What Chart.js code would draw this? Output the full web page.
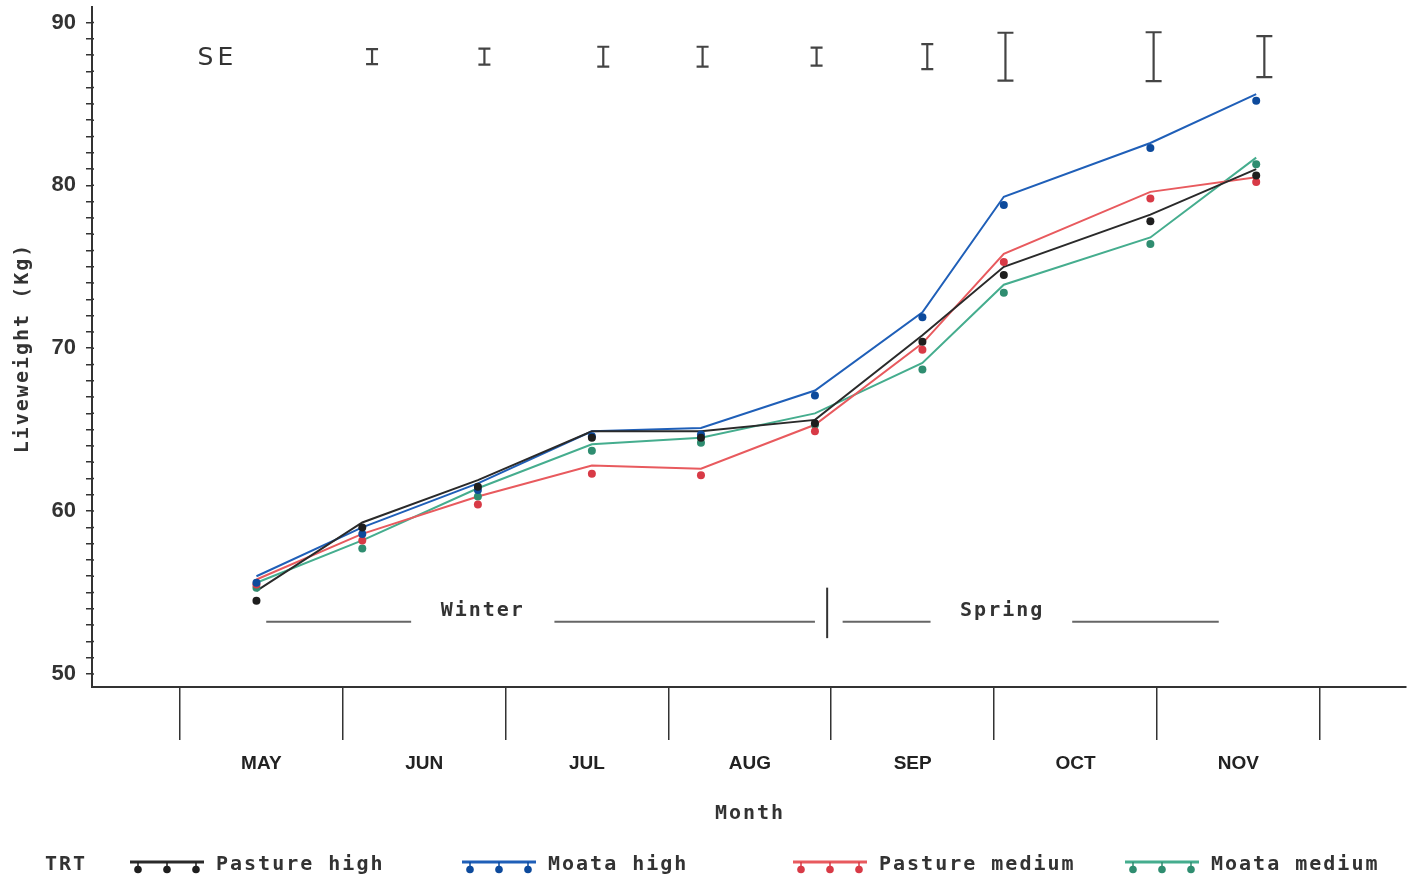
<!DOCTYPE html>
<html>
<head>
<meta charset="utf-8">
<script src="https://cdn.jsdelivr.net/npm/chart.js@4.4.1/dist/chart.umd.min.js"></script>
<style>
  html, body { margin: 0; padding: 0; background: #ffffff; }
  canvas { display: block; }
</style>
</head>
<body>
<canvas id="c" width="1410" height="881"></canvas>
<script>
// ---- Data ----
// sampling times, in month units (5 = start of May ... 12 = end of November)
const sampleTimes = [5.47, 6.12, 6.83, 7.53, 8.20, 8.90, 9.56, 10.06, 10.96, 11.61];
const monthLabels = ['MAY', 'JUN', 'JUL', 'AUG', 'SEP', 'OCT', 'NOV'];
const monthStarts = [5, 6, 7, 8, 9, 10, 11, 12];
const seriesNames = ['Pasture high', 'Moata high', 'Pasture medium', 'Moata medium'];

// observed means (dots)
const pastureHighObs   = [54.5, 59.0, 61.5, 64.5, 64.5, 65.4, 70.4, 74.5, 77.8, 80.6];
const moataHighObs     = [55.6, 58.6, 61.3, 64.6, 64.7, 67.1, 71.9, 78.8, 82.3, 85.2];
const pastureMediumObs = [55.5, 58.2, 60.4, 62.3, 62.2, 64.9, 69.9, 75.3, 79.2, 80.2];
const moataMediumObs   = [55.3, 57.7, 60.9, 63.7, 64.2, 65.3, 68.7, 73.4, 76.4, 81.3];

// fitted lines
const pastureHighFit   = [55.1, 59.3, 61.9, 64.9, 64.9, 65.6, 70.8, 75.0, 78.2, 81.0];
const moataHighFit     = [56.0, 59.0, 61.7, 64.9, 65.1, 67.4, 72.2, 79.3, 82.6, 85.6];
const pastureMediumFit = [55.8, 58.6, 60.9, 62.8, 62.6, 65.3, 70.3, 75.8, 79.6, 80.5];
const moataMediumFit   = [55.6, 58.2, 61.4, 64.1, 64.5, 66.0, 69.1, 73.9, 76.8, 81.7];

// standard errors shown as bars at the top
const seTimes  = [6.18, 6.87, 7.60, 8.21, 8.91, 9.59, 10.07, 10.98, 11.66];
const seValues = [0.46, 0.49, 0.61, 0.61, 0.55, 0.77, 1.47, 1.50, 1.26];

const yTicks = [50, 60, 70, 80, 90];

// ---- Styles ----
const lineColors = ['#2a2a2a', '#1f5fb8', '#e85a5e', '#45ad8e'];
const dotColors  = ['#1e1e1e', '#0d4a9c', '#d83a46', '#2f8d70'];
const obsSets = [pastureHighObs, moataHighObs, pastureMediumObs, moataMediumObs];
const fitSets = [pastureHighFit, moataHighFit, pastureMediumFit, moataMediumFit];

const datasets = [];
fitSets.forEach((arr, i) => {
  datasets.push({
    type: 'line', label: seriesNames[i] + ' fit',
    data: sampleTimes.map((t, k) => ({x: t, y: arr[k]})),
    borderColor: lineColors[i], borderWidth: 2, pointRadius: 0, tension: 0, fill: false,
    order: 2
  });
});
obsSets.forEach((arr, i) => {
  datasets.push({
    type: 'scatter', label: seriesNames[i],
    data: sampleTimes.map((t, k) => ({x: t, y: arr[k]})),
    backgroundColor: dotColors[i], borderColor: dotColors[i], pointRadius: 4, borderWidth: 0,
    order: 1
  });
});

const MONO = '"DejaVu Sans Mono", "Liberation Mono", monospace';

const decor = {
  id: 'decor',
  afterDraw(chart) {
    const ctx = chart.ctx;
    const xs = chart.scales.x, ys = chart.scales.y;
    const ca = chart.chartArea;
    ctx.save();

    // SE bars
    ctx.fillStyle = '#333';
    ctx.font = '25px "DejaVu Sans", sans-serif';
    ctx.letterSpacing = '4px';
    ctx.textAlign = 'center'; ctx.textBaseline = 'middle';
    ctx.fillText('SE', xs.getPixelForValue(5.23), 58);
    ctx.letterSpacing = '0px';
    ctx.strokeStyle = '#444'; ctx.lineWidth = 2.2;
    const seCenter = 87.9;
    seTimes.forEach((t, i) => {
      const x = xs.getPixelForValue(t);
      const y1 = ys.getPixelForValue(seCenter + seValues[i]);
      const y2 = ys.getPixelForValue(seCenter - seValues[i]);
      const cap = seValues[i] > 1 ? 8 : 6;
      ctx.beginPath();
      ctx.moveTo(x, y1); ctx.lineTo(x, y2);
      ctx.moveTo(x - cap, y1); ctx.lineTo(x + cap, y1);
      ctx.moveTo(x - cap, y2); ctx.lineTo(x + cap, y2);
      ctx.stroke();
    });

    // Season annotation
    const sy = ys.getPixelForValue(53.2);
    ctx.strokeStyle = '#666'; ctx.lineWidth = 2;
    [[5.53, 6.42], [7.30, 8.90], [9.07, 9.61], [10.48, 11.38]].forEach(s => {
      ctx.beginPath();
      ctx.moveTo(xs.getPixelForValue(s[0]), sy);
      ctx.lineTo(xs.getPixelForValue(s[1]), sy);
      ctx.stroke();
    });
    ctx.strokeStyle = '#333';
    ctx.beginPath();
    const dx = xs.getPixelForValue(8.975);
    ctx.moveTo(dx, ys.getPixelForValue(55.3));
    ctx.lineTo(dx, ys.getPixelForValue(52.2));
    ctx.stroke();
    ctx.font = 'bold 20px ' + MONO;
    ctx.letterSpacing = '2px';
    ctx.fillStyle = '#333';
    ctx.fillText('Winter', xs.getPixelForValue(6.86), ys.getPixelForValue(53.9));
    ctx.fillText('Spring', xs.getPixelForValue(10.05), ys.getPixelForValue(53.9));

    // Month labels
    ctx.letterSpacing = '0px';
    ctx.font = 'bold 19px "Liberation Sans", Arial, sans-serif';
    ctx.fillStyle = '#222';
    monthLabels.forEach((m, i) => {
      ctx.fillText(m, xs.getPixelForValue(monthStarts[i] + 0.5), 764);
    });

    // Axis titles
    ctx.font = 'bold 20px ' + MONO;
    ctx.letterSpacing = '2px';
    ctx.fillStyle = '#333';
    ctx.fillText('Month', 750, 814);
    ctx.save();
    ctx.translate(23, 348);
    ctx.rotate(-Math.PI / 2);
    ctx.fillText('Liveweight (Kg)', 0, 0);
    ctx.restore();

    // Legend
    ctx.textAlign = 'left';
    ctx.fillText('TRT', 45, 865);
    const legendX = [130, 462, 793, 1125];
    seriesNames.forEach((n, i) => {
      const x0 = legendX[i];
      ctx.strokeStyle = lineColors[i]; ctx.lineWidth = 3;
      ctx.beginPath(); ctx.moveTo(x0, 862); ctx.lineTo(x0 + 74, 862); ctx.stroke();
      ctx.fillStyle = dotColors[i];
      ctx.lineWidth = 1.5; ctx.strokeStyle = dotColors[i];
      [8, 37, 66].forEach(off => {
        ctx.beginPath(); ctx.moveTo(x0 + off, 862); ctx.lineTo(x0 + off, 868); ctx.stroke();
        ctx.beginPath(); ctx.arc(x0 + off, 869.5, 3.8, 0, Math.PI * 2); ctx.fill();
      });
      ctx.fillStyle = '#333';
      ctx.fillText(n, x0 + 86, 865);
    });

    // y-axis minor tick stubs inside axis
    ctx.strokeStyle = '#333'; ctx.lineWidth = 1.5;
    for (let v = 50; v <= 90; v++) {
      const y = ys.getPixelForValue(v);
      ctx.beginPath(); ctx.moveTo(ca.left, y); ctx.lineTo(ca.left + 2, y); ctx.stroke();
    }
    ctx.restore();
  }
};

new Chart(document.getElementById('c'), {
  data: { datasets },
  options: {
    responsive: false,
    animation: false,
    events: [],
    layout: { padding: { top: 7, right: 2, left: 0, bottom: 0 } },
    plugins: { legend: { display: false }, tooltip: { enabled: false } },
    scales: {
      x: {
        type: 'linear', position: 'bottom',
        min: 4.46, max: 12.53,
        afterBuildTicks: s => { s.ticks = monthStarts.map(v => ({value: v})); },
        afterFit: s => { s.height = 194; s.paddingLeft = 0; s.paddingRight = 0; },
        ticks: { callback: () => '', autoSkip: false },
        grid: { drawOnChartArea: false, drawTicks: true, tickLength: 53, color: '#333', lineWidth: 1.5 },
        border: { display: true, color: '#333', width: 2 }
      },
      y: {
        type: 'linear', position: 'left',
        min: 49.2, max: 90.95,
        afterBuildTicks: s => {
          const t = [];
          for (let v = 50; v <= 90; v++) t.push({value: v});
          s.ticks = t;
        },
        afterFit: s => { s.width = 92; s.paddingTop = 0; s.paddingBottom = 0; },
        ticks: {
          autoSkip: false,
          callback: v => (yTicks.includes(v) ? String(v) : ''),
          font: { family: '"Liberation Sans", Arial, sans-serif', size: 22, weight: 'bold' },
          color: '#333', padding: 10
        },
        grid: { drawOnChartArea: false, drawTicks: true, tickLength: 6, color: '#333', lineWidth: 1.5 },
        border: { display: true, color: '#333', width: 2 }
      }
    }
  },
  plugins: [decor]
});
</script>
</body>
</html>
